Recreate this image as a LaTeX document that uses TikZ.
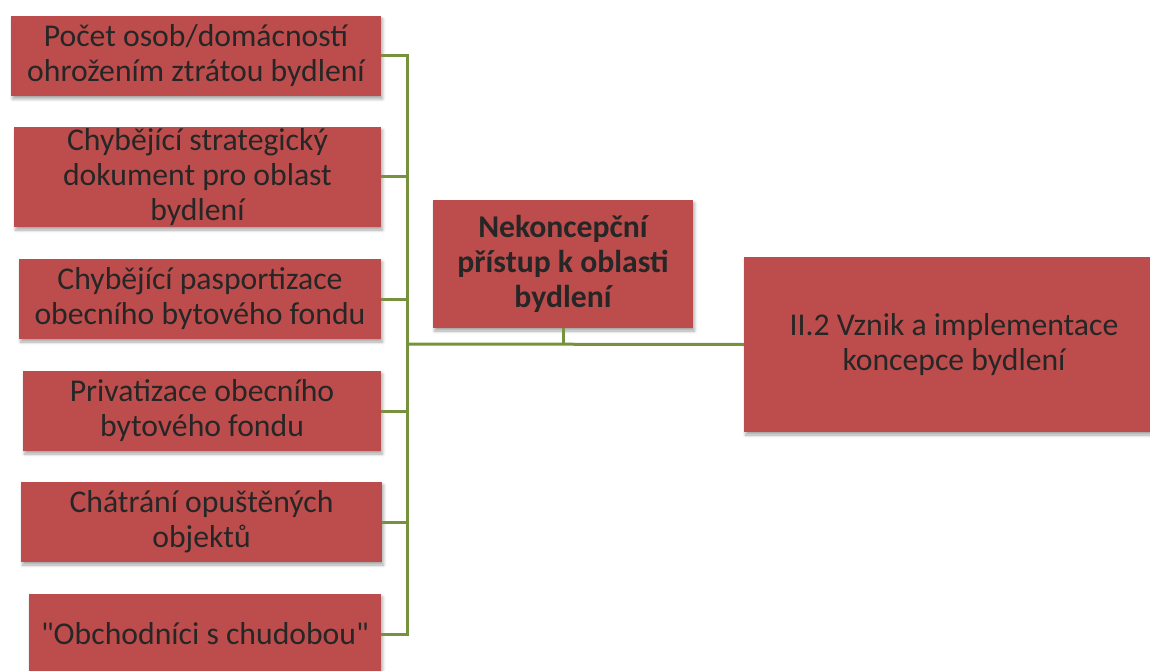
\documentclass[tikz,border=0pt]{standalone}
\usepackage{fontspec}
\setmainfont{Carlito}[Ligatures=TeXOff]
\usetikzlibrary{shadows.blur}
\definecolor{boxred}{RGB}{189,77,76}
\definecolor{txt}{RGB}{38,38,38}
\definecolor{lgreen}{RGB}{118,146,60}
\tikzset{
  rbox/.style={fill=boxred, draw=none, text=txt, align=center, inner sep=0pt,
    font=\fontsize{31.7}{35}\selectfont,
    blur shadow={shadow xshift=1.5pt, shadow yshift=-3pt, shadow blur radius=3pt, shadow blur steps=6, shadow opacity=35}},
  link/.style={draw=lgreen, line width=3pt}
}
\begin{document}
\begin{tikzpicture}[x=1pt,y=-1pt]
\useasboundingbox (0,0) rectangle (1150,671);
\node[rbox, minimum width=370pt, minimum height=80pt] (b1) at (196,56) {Počet osob/domácností\\ohrožením ztrátou bydlení};
\node[rbox, minimum width=367pt, minimum height=100pt] (b2) at (197.5,177) {Chybějící strategický\\dokument pro oblast\\bydlení};
\node[rbox, minimum width=362pt, minimum height=80pt] (b3) at (200,299) {Chybějící pasportizace\\obecního bytového fondu};
\node[rbox, minimum width=358pt, minimum height=80pt] (b4) at (202,411) {Privatizace obecního\\bytového fondu};
\node[rbox, minimum width=361pt, minimum height=80pt] (b5) at (201.5,522) {Chátrání opuštěných\\objektů};
\node[rbox, minimum width=352pt, minimum height=80pt] (b6) at (205,634) {"Obchodníci s chudobou"};
\node[rbox, minimum width=260pt, minimum height=128pt, font=\fontsize{31.7}{35}\selectfont\bfseries] (c) at (563,264) {Nekoncepční\\přístup k oblasti\\bydlení};
\node[rbox, minimum width=420pt, minimum height=175pt] (r) at (954,344.5) {II.2 Vznik a implementace\\koncepce bydlení};
\coordinate (v1) at (407,56);
\coordinate (v6) at (407,634);
\coordinate (vm) at (407,344);
\coordinate (cm) at (563,344);
\draw[link] (b1.east) -- (v1) -- (v6) -- (b6.east);
\draw[link] (b2.east) -- (b2.east -| vm);
\draw[link] (b3.east) -- (b3.east -| vm);
\draw[link] (b4.east) -- (b4.east -| vm);
\draw[link] (b5.east) -- (b5.east -| vm);
\draw[link] (vm) -- (r.west);
\draw[link] (c.south) -- (cm);
\end{tikzpicture}
\end{document}
